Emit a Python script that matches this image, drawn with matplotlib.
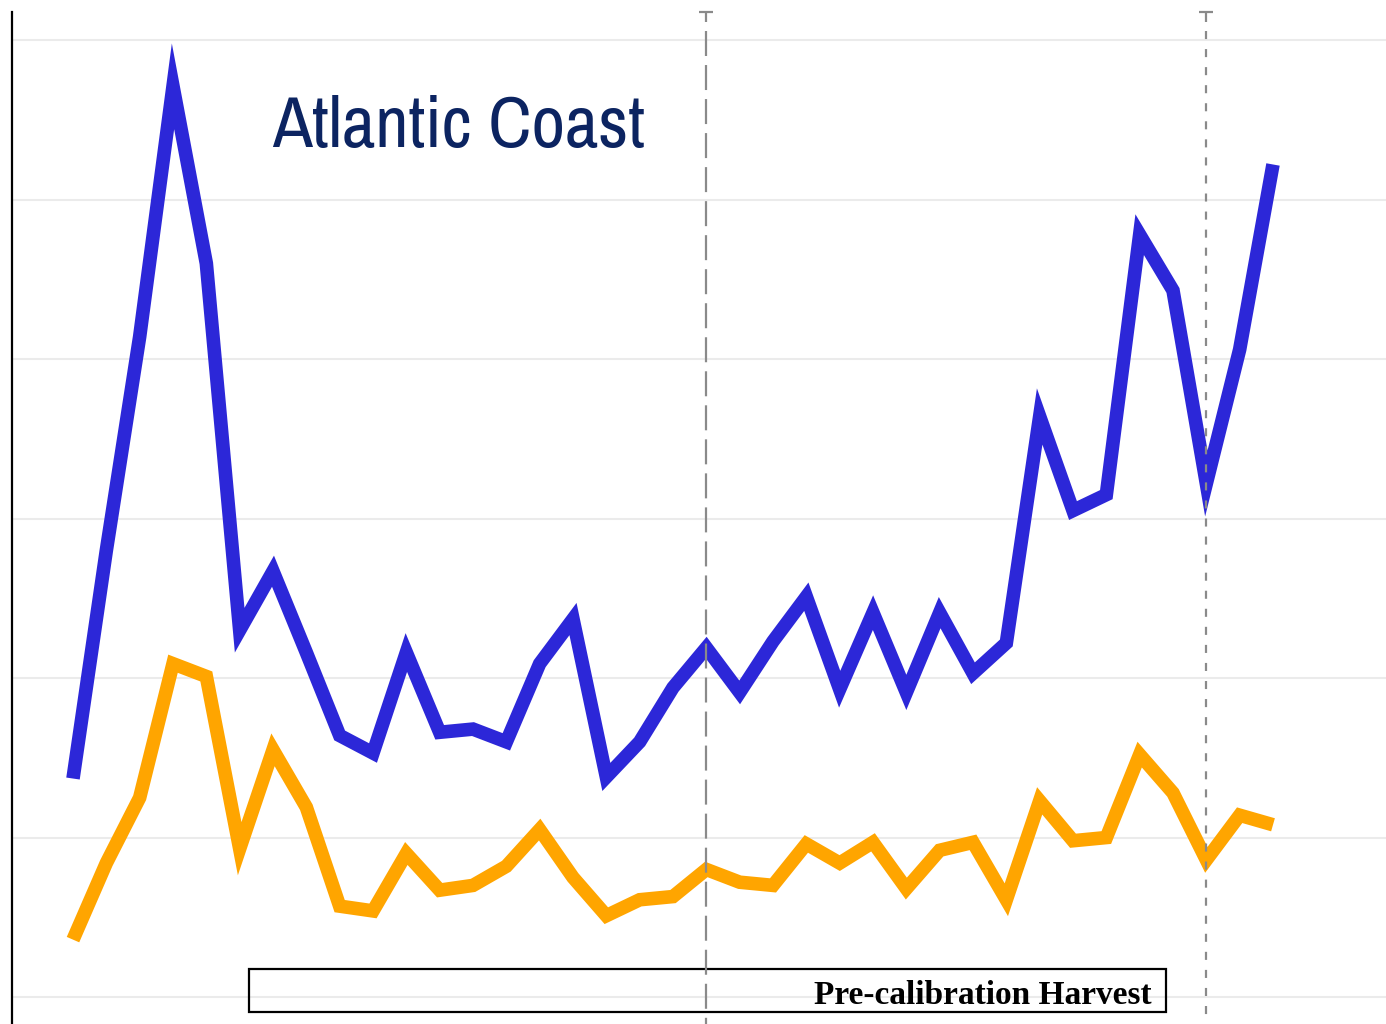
import numpy as np
import matplotlib.pyplot as plt
from matplotlib.patches import Rectangle
from matplotlib import font_manager

# series (gridlines every 10 units)
periods = list(range(37))
blue_vals = [13.7, 28.0, 41.4, 57.1, 46.0, 23.0, 26.7, 21.6, 16.4, 15.3,
             21.6, 16.6, 16.8, 16.0, 20.9, 23.7, 13.8, 16.0, 19.4, 21.9,
             19.1, 22.3, 25.1, 19.3, 24.1, 19.1, 24.1, 20.3, 22.2, 36.4,
             30.5, 31.5, 47.8, 44.3, 32.2, 40.6, 52.2]
orange_vals = [3.6, 8.4, 12.5, 20.9, 20.1, 9.3, 15.5, 11.9, 5.7, 5.4,
               9.0, 6.7, 7.0, 8.2, 10.5, 7.5, 5.1, 6.1, 6.3, 8.0,
               7.2, 7.0, 9.6, 8.4, 9.7, 6.8, 9.2, 9.7, 6.1, 12.3,
               9.8, 10.0, 15.2, 12.8, 8.6, 11.4, 10.8]
marker_periods = [19, 34]
title = "Atlantic Coast"
box_label = "Pre-calibration Harvest"

# pick a narrow sans font if one is installed
names = sorted({f.name for f in font_manager.fontManager.ttflist})
narrow = [n for n in names if ("Narrow" in n or "Condensed" in n)
          and "Mono" not in n and "Serif" not in n]
title_family = narrow[:1] + ["Liberation Sans", "DejaVu Sans"]

W, H = 1386, 1024
fig = plt.figure(figsize=(W / 100, H / 100), dpi=100)
ax = fig.add_axes([12 / W, 0, 1 - 12 / W, 1 - 12 / H])

ax.plot(periods, orange_vals, color="#ffa500", lw=9.8,
        solid_capstyle="butt", solid_joinstyle="miter", zorder=3)
ax.plot(periods, blue_vals, color="#2c27d8", lw=9.8,
        solid_capstyle="butt", solid_joinstyle="miter", zorder=3)

ax.set_xlim(-1.83, 39.39)
ax.set_ylim(-1.69, 61.76)
ax.set_yticks(np.arange(0, 61, 10))
ax.set_xticks([])
ax.tick_params(left=False, labelleft=False)
ax.grid(axis="y", color="#ebebeb", lw=1.5)
ax.set_axisbelow(True)
for s in ["top", "right", "bottom"]:
    ax.spines[s].set_visible(False)
ax.spines["left"].set_linewidth(1.6)
ax.spines["left"].set_color("black")

# dashed period markers with a small cap on top
px = 1 / (H - 12)
trans = ax.get_xaxis_transform()
styles = [(0, (18, 6.5)), (0, (5.8, 7.2))]
plt.rcParams["lines.scale_dashes"] = False
for xp, ls in zip(marker_periods, styles):
    ax.plot([xp, xp], [1.0, 1 - 10 * px], color="#8a8a8a", lw=1.6,
            transform=trans, clip_on=False, zorder=5, solid_capstyle="butt")
    ax.plot([xp], [1.0], marker="_", ms=9.5, mew=1.6, color="#8a8a8a",
            transform=trans, clip_on=False, zorder=5)
    ln, = ax.plot([xp, xp], [1 - 19 * px, -0.02], color="#8a8a8a", lw=1.6,
                  transform=trans, clip_on=False, zorder=5)
    ln.set_linestyle(ls)

t = ax.text((272 - 12) / (W - 12), (H - 147) * px, title,
            family=title_family, fontsize=60, fontweight="light",
            color="#0c2461", ha="left", va="baseline", transform=ax.transAxes)
# shrink the title so it spans the same width as in the reference
fig.canvas.draw()
w = t.get_window_extent().width
if w > 375:
    t.set_fontsize(60 * 373 / w)

ax.add_patch(Rectangle(((249 - 12) / (W - 12), (H - 1012) * px),
                       (1166 - 249) / (W - 12), 43 * px,
                       transform=ax.transAxes, fill=False,
                       edgecolor="black", lw=1.6, zorder=4, clip_on=False))
ax.text((1152 - 12) / (W - 12), (H - 1004) * px, box_label,
        family=["Liberation Serif", "DejaVu Serif"], fontweight="bold",
        fontsize=24, ha="right", va="baseline", transform=ax.transAxes,
        zorder=6)

fig.savefig("out.png", dpi=100)
